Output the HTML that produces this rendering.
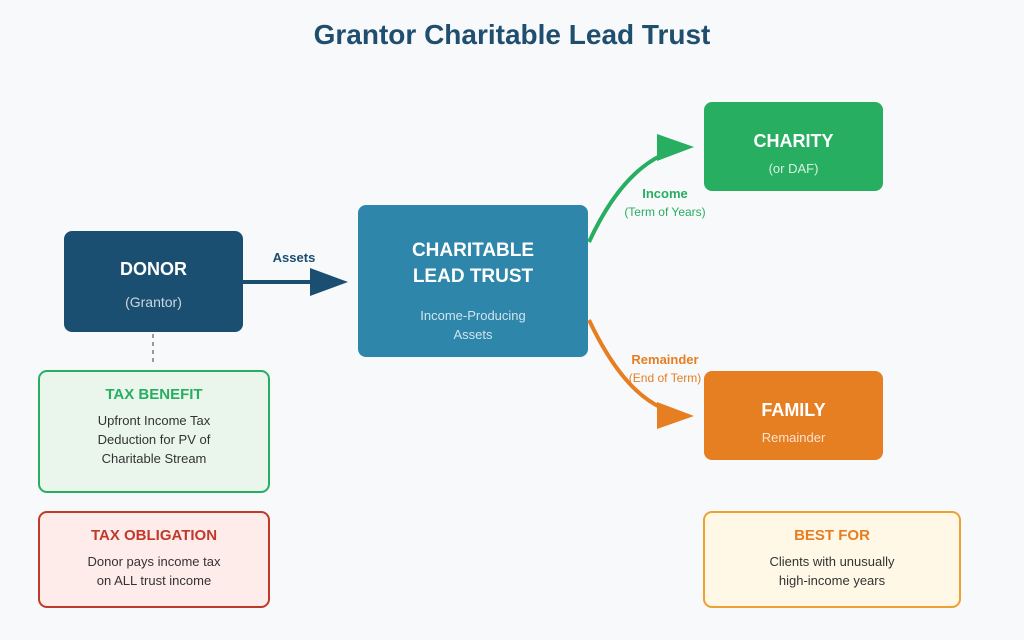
<!DOCTYPE html>
<html><head><meta charset="utf-8"><style>
html,body{margin:0;padding:0;background:#f8f9fb;}
svg{display:block;font-family:"Liberation Sans",sans-serif;}
</style></head><body>
<svg width="1024" height="640" viewBox="0 0 1024 640" xmlns="http://www.w3.org/2000/svg">
<rect width="1024" height="640" fill="#f8f9fb"/>
<text x="512" y="44" text-anchor="middle" font-size="28" font-weight="bold" fill="#1f4e6e">Grantor Charitable Lead Trust</text>

<rect x="64" y="231" width="179" height="101" rx="8" fill="#1b4f72"/>
<text x="153.5" y="275" text-anchor="middle" font-size="18" font-weight="bold" fill="#fff">DONOR</text>
<text x="153.5" y="307" text-anchor="middle" font-size="14" fill="#c9d6e0">(Grantor)</text>

<line x1="243" y1="282" x2="314" y2="282" stroke="#1b4f72" stroke-width="4"/>
<polygon points="310,268 348,282 310,296" fill="#1b4f72"/>
<text x="294" y="262" text-anchor="middle" font-size="13" font-weight="bold" fill="#1b4f72">Assets</text>

<rect x="358" y="205" width="230" height="152" rx="8" fill="#2e86ab"/>
<text x="473" y="256" text-anchor="middle" font-size="19" font-weight="bold" fill="#fff">CHARITABLE</text>
<text x="473" y="282" text-anchor="middle" font-size="19" font-weight="bold" fill="#fff">LEAD TRUST</text>
<text x="473" y="320" text-anchor="middle" font-size="13" fill="#cfe4ef">Income-Producing</text>
<text x="473" y="339" text-anchor="middle" font-size="13" fill="#cfe4ef">Assets</text>

<rect x="704" y="102" width="179" height="89" rx="8" fill="#27ae60"/>
<text x="793.5" y="147" text-anchor="middle" font-size="18" font-weight="bold" fill="#fff">CHARITY</text>
<text x="793.5" y="173" text-anchor="middle" font-size="13" fill="#d8f2e2">(or DAF)</text>

<path d="M589,242 Q620,175 662,155" fill="none" stroke="#27ae60" stroke-width="4"/>
<polygon points="657,134 694,147 657,161" fill="#27ae60"/>
<text x="665" y="198" text-anchor="middle" font-size="13" font-weight="bold" fill="#27ae60">Income</text>
<text x="665" y="216" text-anchor="middle" font-size="12" fill="#27ae60">(Term of Years)</text>

<rect x="704" y="371" width="179" height="89" rx="8" fill="#e67e22"/>
<text x="793.5" y="416" text-anchor="middle" font-size="18" font-weight="bold" fill="#fff">FAMILY</text>
<text x="793.5" y="442" text-anchor="middle" font-size="13" fill="#fbe3cc">Remainder</text>

<path d="M589,320 Q622,390 662,408" fill="none" stroke="#e67e22" stroke-width="4"/>
<polygon points="657,402 694,416 657,429" fill="#e67e22"/>
<text x="665" y="364" text-anchor="middle" font-size="13" font-weight="bold" fill="#e67e22">Remainder</text>
<text x="665" y="382" text-anchor="middle" font-size="12" fill="#e67e22">(End of Term)</text>

<line x1="153" y1="334" x2="153" y2="366" stroke="#999" stroke-width="2" stroke-dasharray="4,4"/>

<rect x="39" y="371" width="230" height="121" rx="8" fill="#eaf6ec" stroke="#27ae60" stroke-width="2"/>
<text x="154" y="399" text-anchor="middle" font-size="15" font-weight="bold" fill="#27ae60">TAX BENEFIT</text>
<text x="154" y="425" text-anchor="middle" font-size="13" fill="#333">Upfront Income Tax</text>
<text x="154" y="444" text-anchor="middle" font-size="13" fill="#333">Deduction for PV of</text>
<text x="154" y="463" text-anchor="middle" font-size="13" fill="#333">Charitable Stream</text>

<rect x="39" y="512" width="230" height="95" rx="8" fill="#fdecea" stroke="#c0392b" stroke-width="2"/>
<text x="154" y="540" text-anchor="middle" font-size="15" font-weight="bold" fill="#c0392b">TAX OBLIGATION</text>
<text x="154" y="566" text-anchor="middle" font-size="13" fill="#333">Donor pays income tax</text>
<text x="154" y="585" text-anchor="middle" font-size="13" fill="#333">on ALL trust income</text>

<rect x="704" y="512" width="256" height="95" rx="8" fill="#fff8e6" stroke="#f0a030" stroke-width="2"/>
<text x="832" y="540" text-anchor="middle" font-size="15" font-weight="bold" fill="#e67e22">BEST FOR</text>
<text x="832" y="566" text-anchor="middle" font-size="13" fill="#333">Clients with unusually</text>
<text x="832" y="585" text-anchor="middle" font-size="13" fill="#333">high-income years</text>
</svg>
</body></html>
